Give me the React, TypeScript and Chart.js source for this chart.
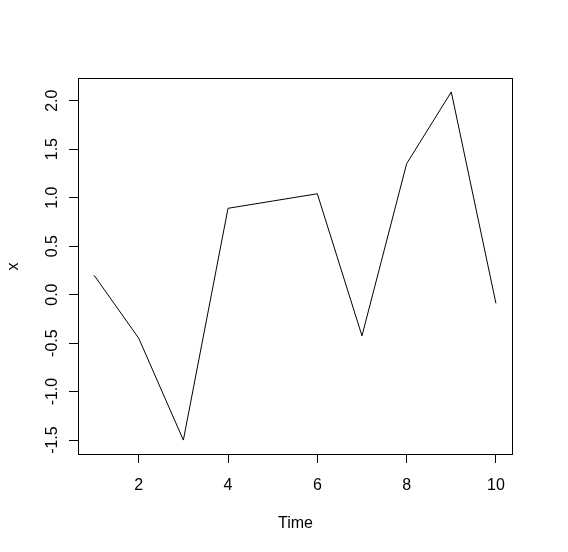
import React, { useEffect, useRef } from "react";
import { Chart, registerables } from "chart.js";

Chart.register(...registerables);

const timePoints = [1, 2, 3, 4, 5, 6, 7, 8, 9, 10];
const seriesX = [0.2, -0.45, -1.5, 0.89, 0.965, 1.04, -0.425, 1.35, 2.09, -0.09];
const xTicks = [2, 4, 6, 8, 10];
const yTicks = [-1.5, -1.0, -0.5, 0.0, 0.5, 1.0, 1.5, 2.0];
const yTickLabels = ["-1.5", "-1.0", "-0.5", "0.0", "0.5", "1.0", "1.5", "2.0"];
const xTitle = "Time";
const yTitle = "x";

const FONT = '16px "Liberation Sans", Arial, sans-serif';

function padRange(arr: number[]) {
  const lo = Math.min(...arr);
  const hi = Math.max(...arr);
  const p = (hi - lo) * 0.04;
  return [lo - p, hi + p];
}

export default function App() {
  const ref = useRef<HTMLCanvasElement | null>(null);

  useEffect(() => {
    document.body.style.margin = "0";
    const canvas = ref.current;
    if (!canvas) return;
    const [xMin, xMax] = padRange(timePoints);
    const [yMin, yMax] = padRange(seriesX);

    const boxPlugin = {
      id: "rbox",
      afterDraw(chart: any) {
        const ctx = chart.ctx;
        const a = chart.chartArea;
        const xs = chart.scales.x;
        const ys = chart.scales.y;
        ctx.save();
        ctx.strokeStyle = "#000";
        ctx.lineWidth = 1;
        const l = Math.round(a.left) + 0.5;
        const t = Math.round(a.top) + 0.5;
        const r = Math.round(a.right) + 0.5;
        const b = Math.round(a.bottom) + 0.5;
        ctx.strokeRect(l, t, r - l, b - t);
        ctx.fillStyle = "#000";
        ctx.font = FONT;
        ctx.textAlign = "center";
        ctx.textBaseline = "alphabetic";
        xTicks.forEach((v) => {
          ctx.fillText(String(v), xs.getPixelForValue(v), b + 35);
        });
        yTicks.forEach((v, i) => {
          ctx.save();
          ctx.translate(l - 22, ys.getPixelForValue(v));
          ctx.rotate(-Math.PI / 2);
          ctx.fillText(yTickLabels[i], 0, 0);
          ctx.restore();
        });
        ctx.fillText(xTitle, (l + r) / 2, b + 73);
        ctx.save();
        ctx.translate(l - 61, (t + b) / 2);
        ctx.rotate(-Math.PI / 2);
        ctx.fillText(yTitle, 0, 0);
        ctx.restore();
        ctx.restore();
      },
    };

    const chart = new Chart(canvas, {
      type: "line",
      data: {
        datasets: [
          {
            data: timePoints.map((t, i) => ({ x: t, y: seriesX[i] })),
            borderColor: "#000",
            borderWidth: 1,
            pointRadius: 0,
            tension: 0,
            fill: false,
          },
        ],
      },
      options: {
        animation: false,
        responsive: false,
        maintainAspectRatio: false,
        devicePixelRatio: 1,
        layout: { padding: { top: 78, right: 56, left: 0, bottom: 0 } },
        plugins: { legend: { display: false }, tooltip: { enabled: false } },
        scales: {
          x: {
            type: "linear",
            min: xMin,
            max: xMax,
            afterBuildTicks: (s: any) => {
              s.ticks = xTicks.map((v) => ({ value: v }));
            },
            afterFit: (s: any) => {
              s.height = 98;
            },
            ticks: { display: false },
            border: { display: false },
            grid: {
              drawOnChartArea: false,
              drawTicks: true,
              tickLength: 9,
              color: "#000",
              lineWidth: 1,
            },
          },
          y: {
            type: "linear",
            min: yMin,
            max: yMax,
            afterBuildTicks: (s: any) => {
              s.ticks = yTicks.map((v) => ({ value: v }));
            },
            afterFit: (s: any) => {
              s.width = 78;
            },
            ticks: { display: false },
            border: { display: false },
            grid: {
              drawOnChartArea: false,
              drawTicks: true,
              tickLength: 9,
              color: "#000",
              lineWidth: 1,
            },
          },
        },
      },
      plugins: [boxPlugin],
    } as any);
    return () => chart.destroy();
  }, []);

  return (
    <div style={{ width: 568, height: 552, background: "#fff" }}>
      <canvas ref={ref} width={568} height={552} style={{ display: "block" }} />
    </div>
  );
}
